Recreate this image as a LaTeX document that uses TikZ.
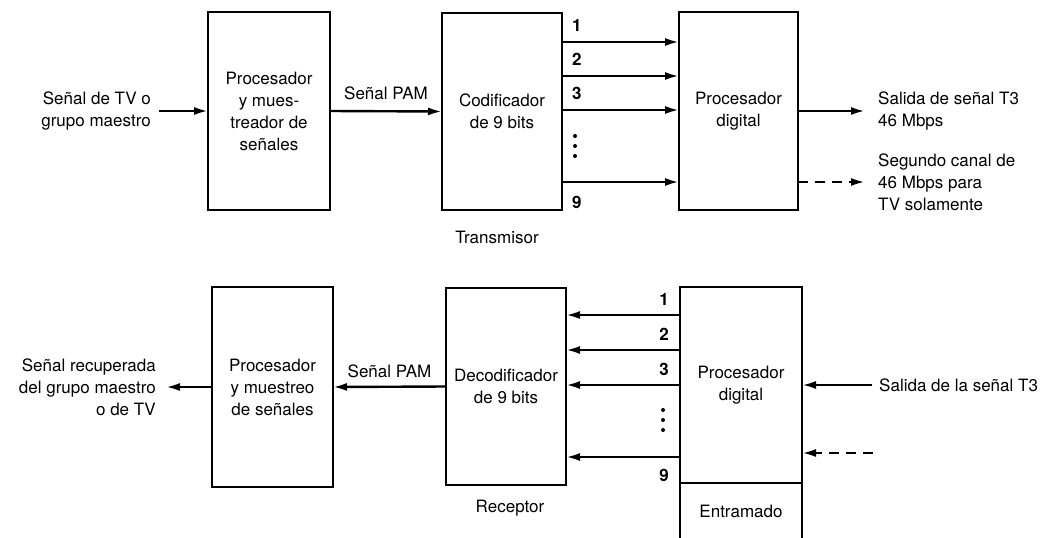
\documentclass[tikz,border=0pt]{standalone}
\usepackage{fontspec}
\setmainfont{TeX Gyre Heros}
\usetikzlibrary{arrows.meta}
\newcommand{\letra}{\fontsize{17}{22}\selectfont}

\begin{document}
\begin{tikzpicture}[x=1pt, y=-1pt,
  bloque/.style={draw, line width=2.4pt, inner sep=0pt, outer sep=0pt,
    align=center, font=\letra},
  senal/.style={line width=2.4pt, -{Latex[length=14pt,width=8pt]}},
  trazos/.style={dash pattern=on 10pt off 7pt},
  texto/.style={inner sep=1pt, align=left, font=\letra},
  bit/.style={inner sep=1pt, font=\letra\bfseries}]
  \useasboundingbox (0,0) rectangle (1044,538);
  % Transmisor
  \node[bloque, minimum width=122, minimum height=198] (pm) at (269,111)
    {Procesador\\y mues-\\treador de\\señales};
  \node[bloque, minimum width=120, minimum height=197] (cod) at (502,111.5)
    {Codificador\\de 9 bits};
  \node[bloque, minimum width=119, minimum height=198] (pd) at (738.5,111)
    {Procesador\\digital};
  \node[texto, align=right, anchor=east] (tvin) at (152,111)
    {Señal de TV o\\grupo maestro};
  \draw[senal] ([xshift=7pt]tvin.east) -- (pm.west);
  \draw[senal] (pm.east) -- (cod.west)
    node[texto, midway, above=9pt] (pamt) {Señal PAM};
  % Lineas de bits
  \foreach \n/\y in {1/42,2/76,3/110}
    \draw[senal] (cod.east |- 0,\y) -- (pd.west |- 0,\y)
      node[bit, pos=0, anchor=south west, xshift=8pt, yshift=8pt] (tb\n) {\n};
  \draw[senal] (cod.east |- 0,182) -- (pd.west |- 0,182)
    node[bit, pos=0, anchor=north west, xshift=8pt, yshift=-12pt] (tb9) {9};
  \foreach \d in {0,1,2}
    \fill (575,136+10*\d) circle (2);
  % Salidas
  \node[texto, anchor=west] (t3) at (877,111) {Salida de señal T3\\46 Mbps};
  \draw[senal] (pd.east) -- ([xshift=-12pt]t3.west);
  \node[texto, anchor=west] (seg) at (877,182)
    {Segundo canal de\\46 Mbps para\\TV solamente};
  \draw[senal, trazos] (pd.east |- seg.west) -- ([xshift=-12pt]seg.west);
  \node[texto] (tx) at (497,237) {Transmisor};

  % Receptor
  \node[bloque, minimum width=121, minimum height=200] (pmr) at (272.5,387)
    {Procesador\\y muestreo\\de señales};
  \node[bloque, minimum width=120, minimum height=197] (dec) at (506,386.5)
    {Decodificador\\de 9 bits};
  \node[bloque, minimum width=122, minimum height=196] (pdr) at (741,385)
    {Procesador\\digital};
  \node[bloque, minimum width=122, minimum height=56, anchor=north] (ent)
    at (pdr.south) {Entramado};
  \node[texto, align=right, anchor=east] (rec) at (157,387)
    {Señal recuperada\\del grupo maestro\\o de TV};
  \draw[senal] (pmr.west) -- ([xshift=9pt]rec.east);
  \draw[senal] (dec.west) -- (pmr.east)
    node[texto, midway, above=7pt] (pamr) {Señal PAM};
  % Lineas de bits
  \foreach \n/\y in {1/315,2/350,3/385}
    \draw[senal] (pdr.west |- 0,\y) -- (dec.east |- 0,\y)
      node[bit, pos=0, anchor=south east, xshift=-9pt, yshift=7pt] (rb\n) {\n};
  \draw[senal] (pdr.west |- 0,457) -- (dec.east |- 0,457)
    node[bit, pos=0, anchor=north east, xshift=-9pt, yshift=-10pt] (rb9) {9};
  \foreach \d in {0,1,2}
    \fill (663,410+10*\d) circle (2);
  % Entradas
  \node[texto, anchor=west] (t3r) at (878,385) {Salida de la señal T3};
  \draw[senal] ([xshift=-6pt]t3r.west) -- (pdr.east |- t3r.west);
  \coordinate (dshr) at (873,453);
  \draw[senal, trazos] (dshr) -- (pdr.east |- dshr);
  \node[texto] (rx) at (510,508) {Receptor};
\end{tikzpicture}
\end{document}
